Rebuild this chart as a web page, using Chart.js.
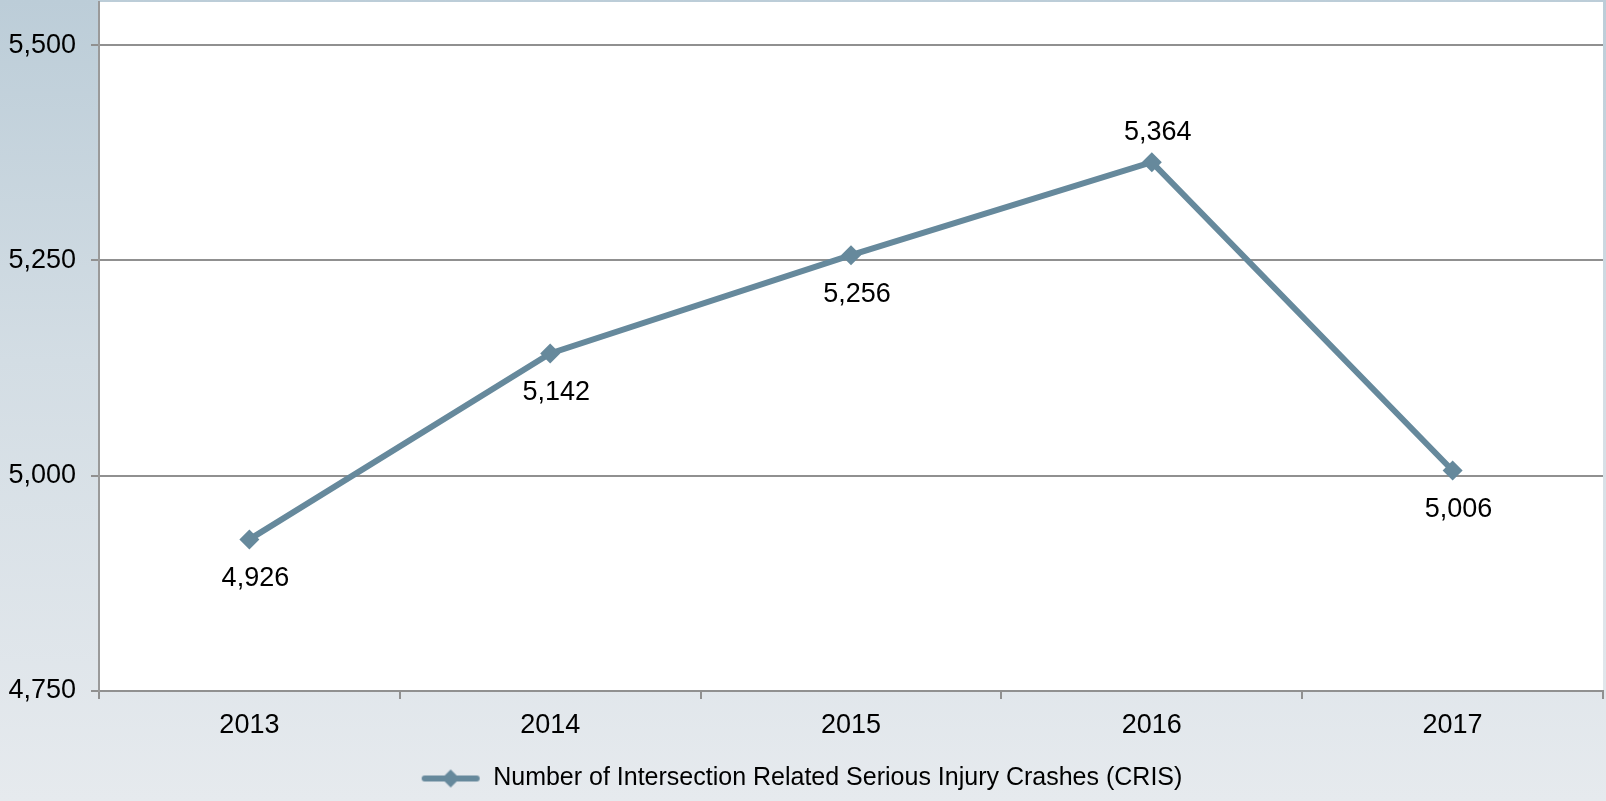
<!DOCTYPE html>
<html>
<head>
<meta charset="utf-8">
<script src="https://cdn.jsdelivr.net/npm/chart.js@4/dist/chart.umd.min.js"></script>
<style>
  html, body { margin: 0; padding: 0; }
  body { background: linear-gradient(to bottom, #bccdd8 0%, #d3dde4 45%, #e6eaee 100%); }
  #wrap { width: 1606px; height: 801px; position: relative; }
</style>
</head>
<body>
<div id="wrap"><canvas id="myChart"></canvas></div>
<script>
const years = ["2013", "2014", "2015", "2016", "2017"];
const crashes = [4926, 5142, 5256, 5364, 5006];
const yTicks = [4750, 5000, 5250, 5500];
const labelAbove = [false, false, false, true, false];

const seriesName = "Number of Intersection Related Serious Injury Crashes (CRIS)";
const lineColor = "#66899c";
const gridColor = "#909090";
const textFont = "'Liberation Sans', Arial, sans-serif";

// legend symbol: short line with a diamond in the middle
const legendMark = document.createElement("canvas");
legendMark.width = 60;
legendMark.height = 20;
{
    const c = legendMark.getContext("2d");
    c.strokeStyle = lineColor;
    c.lineWidth = 6;
    c.lineCap = "round";
    c.beginPath();
    c.moveTo(4, 10);
    c.lineTo(56, 10);
    c.stroke();
    c.fillStyle = lineColor;
    c.beginPath();
    c.moveTo(30, 1);
    c.lineTo(39, 10);
    c.lineTo(30, 19);
    c.lineTo(21, 10);
    c.closePath();
    c.fill();
}

const plotBackground = {
    id: "plotBackground",
    beforeDraw(chart) {
        const { ctx, chartArea } = chart;
        ctx.save();
        ctx.fillStyle = "#ffffff";
        ctx.fillRect(chartArea.left, chartArea.top, chartArea.right - chartArea.left, chartArea.bottom - chartArea.top);
        ctx.restore();
    },
};

const valueLabels = {
    id: "valueLabels",
    afterDatasetsDraw(chart) {
        const { ctx } = chart;
        const meta = chart.getDatasetMeta(0);
        ctx.save();
        ctx.font = "27px " + textFont;
        ctx.fillStyle = "#000";
        ctx.textAlign = "center";
        ctx.textBaseline = "middle";
        meta.data.forEach((pt, i) => {
            const y = labelAbove[i] ? pt.y - 30 : pt.y + 39;
            ctx.fillText(crashes[i].toLocaleString("en-US"), pt.x + 6, y);
        });
        ctx.restore();
    },
};

const ctx = document.getElementById("myChart");

new Chart(ctx, {
    type: "line",
    data: {
        labels: years,
        datasets: [
            {
                label: seriesName,
                data: crashes,
                borderColor: lineColor,
                backgroundColor: lineColor,
                borderWidth: 6,
                pointStyle: "rectRot",
                pointRadius: 10,
                pointBorderWidth: 0,
                pointBackgroundColor: lineColor,
                tension: 0,
            },
        ],
    },
    options: {
        responsive: true,
        maintainAspectRatio: false,
        animation: false,
        layout: {
            autoPadding: false,
            padding: { left: 0, right: 3, top: 2, bottom: 0 },
        },
        scales: {
            x: {
                offset: true,
                ticks: {
                    color: "#000",
                    padding: 10,
                    font: { family: textFont, size: 27 },
                },
                grid: {
                    offset: true,
                    drawOnChartArea: false,
                    color: gridColor,
                    lineWidth: 2,
                    tickLength: 8,
                },
                border: { color: gridColor, width: 2 },
                afterFit(scale) {
                    scale.height = 61;
                    scale.paddingLeft = 0;
                    scale.paddingRight = 0;
                },
            },
            y: {
                min: 4750,
                max: 5550,
                afterBuildTicks(scale) {
                    scale.ticks = yTicks.map((v) => ({ value: v }));
                },
                ticks: {
                    color: "#000",
                    padding: 15,
                    font: { family: textFont, size: 27 },
                    callback: (v) => Number(v).toLocaleString("en-US"),
                },
                grid: {
                    color: gridColor,
                    lineWidth: 2,
                    tickLength: 8,
                },
                border: { color: "#9a9a9a", width: 2 },
                afterFit(scale) {
                    scale.width = 99;
                    scale.paddingTop = 0;
                    scale.paddingBottom = 0;
                },
            },
        },
        plugins: {
            tooltip: { enabled: false },
            legend: {
                position: "bottom",
                labels: {
                    color: "#000",
                    usePointStyle: true,
                    pointStyle: legendMark,
                    pointStyleWidth: 60,
                    boxHeight: 20,
                    padding: 14,
                    font: { family: textFont, size: 25 },
                    generateLabels(chart) {
                        return [{
                            text: seriesName,
                            pointStyle: legendMark,
                            fillStyle: lineColor,
                            strokeStyle: lineColor,
                            lineWidth: 0,
                            hidden: false,
                            datasetIndex: 0,
                            fontColor: "#000",
                        }];
                    },
                },
            },
        },
    },
    plugins: [plotBackground, valueLabels],
});
</script>
</body>
</html>
